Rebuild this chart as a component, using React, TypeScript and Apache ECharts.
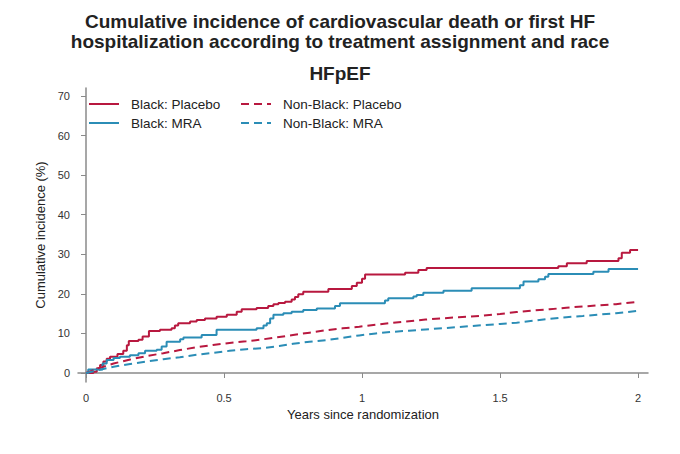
import React, { useEffect, useRef } from "react";
import * as echarts from "echarts";

const titleLines = [
  "Cumulative incidence of cardiovascular death or first HF",
  "hospitalization according to treatment assignment and race",
];
const subTitle = "HFpEF";
const xTicks = [0, 0.5, 1, 1.5, 2];
const yTicks = [0, 10, 20, 30, 40, 50, 60, 70];
const xName = "Years since randomization";
const yName = "Cumulative incidence (%)";

const seriesNames = ["Black: Placebo", "Black: MRA", "Non-Black: Placebo", "Non-Black: MRA"];

const blackPlacebo: [number, number][] = [
  [0, 0], [0.027, 0.3], [0.039, 1.2], [0.051, 2.0], [0.063, 2.9], [0.075, 3.6], [0.087, 4.1],
  [0.114, 4.8], [0.135, 5.6], [0.148, 7.0], [0.155, 8.1], [0.19, 8.4], [0.205, 9.2],
  [0.228, 10.6], [0.268, 10.9], [0.31, 11.3], [0.322, 12.0], [0.334, 12.6], [0.377, 13.0],
  [0.401, 13.4], [0.431, 13.8], [0.473, 14.2], [0.51, 14.7], [0.546, 15.5], [0.564, 16.1],
  [0.618, 16.4], [0.66, 16.9], [0.679, 17.4], [0.697, 17.7], [0.721, 18.0], [0.745, 18.6],
  [0.757, 19.2], [0.769, 19.9], [0.787, 20.5], [0.878, 21.2], [0.963, 22.0], [0.981, 22.8],
  [1.0, 23.8], [1.011, 24.9], [1.156, 25.3], [1.204, 26.0], [1.234, 26.5], [1.711, 27.0],
  [1.742, 27.7], [1.814, 28.3], [1.929, 29.0], [1.941, 30.4], [1.971, 31.1], [2.0, 31.1],
];

const blackMRA: [number, number][] = [
  [0, 0], [0.008, 0.9], [0.06, 2.4], [0.075, 3.3], [0.1, 3.8], [0.123, 4.1], [0.159, 4.5],
  [0.19, 5.0], [0.214, 5.6], [0.256, 5.9], [0.274, 6.7], [0.292, 7.9], [0.341, 8.5],
  [0.353, 9.0], [0.419, 9.6], [0.473, 10.9], [0.618, 11.3], [0.643, 12.0], [0.655, 12.6],
  [0.667, 13.8], [0.679, 14.7], [0.715, 15.1], [0.745, 15.5], [0.787, 15.9], [0.836, 16.3],
  [0.902, 16.9], [0.92, 17.6], [1.083, 18.3], [1.095, 18.9], [1.186, 19.3], [1.198, 19.7],
  [1.222, 20.3], [1.295, 20.8], [1.397, 21.4], [1.572, 22.2], [1.585, 23.1], [1.639, 23.7],
  [1.663, 24.3], [1.675, 25.0], [1.838, 25.6], [1.893, 26.3], [2.0, 26.3],
];

const nonBlackPlacebo: [number, number][] = [
  [0, 0], [0.05, 1.3], [0.1, 2.4], [0.16, 3.4], [0.22, 4.3], [0.28, 5.0], [0.34, 5.8],
  [0.4, 6.5], [0.46, 7.1], [0.52, 7.6], [0.58, 8.0], [0.64, 8.5], [0.7, 9.1], [0.75, 9.6],
  [0.81, 10.2], [0.87, 10.8], [0.93, 11.3], [0.99, 11.7], [1.05, 12.2], [1.11, 12.7],
  [1.17, 13.1], [1.23, 13.5], [1.29, 13.8], [1.35, 14.1], [1.44, 14.5], [1.5, 14.9],
  [1.56, 15.4], [1.62, 15.8], [1.68, 16.1], [1.74, 16.5], [1.8, 16.8], [1.86, 17.1],
  [1.92, 17.4], [2.0, 18.0],
];

const nonBlackMRA: [number, number][] = [
  [0, 0], [0.05, 0.8], [0.1, 1.6], [0.16, 2.3], [0.22, 2.9], [0.28, 3.5], [0.34, 4.0],
  [0.4, 4.6], [0.46, 5.1], [0.52, 5.6], [0.58, 6.0], [0.64, 6.3], [0.7, 6.8], [0.75, 7.4],
  [0.81, 7.9], [0.87, 8.3], [0.93, 8.9], [0.99, 9.5], [1.05, 10.0], [1.11, 10.4],
  [1.17, 10.7], [1.23, 11.0], [1.29, 11.3], [1.35, 11.6], [1.44, 12.1], [1.5, 12.4],
  [1.56, 12.7], [1.62, 13.2], [1.68, 13.7], [1.74, 14.1], [1.8, 14.4], [1.86, 14.8],
  [1.92, 15.1], [2.0, 15.7],
];

const RED = "#b8183f";
const BLUE = "#2b8db6";
const FONT = "'Liberation Sans', Arial, sans-serif";

export default function App() {
  const ref = useRef<HTMLDivElement>(null);
  useEffect(() => {
    if (!ref.current) return;
    const chart = echarts.init(ref.current, null, { renderer: "svg" });
    const axisLine = { show: true, lineStyle: { color: "#8a8a8a", width: 1.5 } };
    const legendBase = {
      orient: "vertical" as const,
      top: 97,
      padding: 0,
      itemWidth: 30,
      itemHeight: 14,
      itemGap: 5,
      itemStyle: { opacity: 0 },
      textStyle: { fontSize: 13.5, color: "#222", fontFamily: FONT, padding: [0, 0, 0, 7] },
    };
    chart.setOption({
      animation: false,
      backgroundColor: "#fff",
      textStyle: { fontFamily: FONT },
      title: [
        {
          text: titleLines.join("\n"),
          left: "center",
          top: 6,
          textStyle: { fontSize: 19, fontWeight: "bold", color: "#222", lineHeight: 20, fontFamily: FONT },
        },
        {
          text: subTitle,
          left: "center",
          top: 59,
          textStyle: { fontSize: 19, fontWeight: "bold", color: "#222", fontFamily: FONT },
        },
      ],
      legend: [
        { ...legendBase, left: 88, data: [seriesNames[0], seriesNames[1]] },
        { ...legendBase, left: 240, data: [seriesNames[2], seriesNames[3]] },
      ],
      grid: { left: 78, right: 32, top: 88, bottom: 72, containLabel: false },
      xAxis: {
        type: "value",
        min: -0.029,
        max: 2.036,
        name: xName,
        nameLocation: "middle",
        nameGap: 21,
        nameTextStyle: { fontSize: 13, color: "#222", fontFamily: FONT },
        axisLine,
        axisTick: { show: true, customValues: xTicks, length: 5, lineStyle: { color: "#8a8a8a" } },
        axisLabel: {
          customValues: xTicks,
          margin: 10,
          fontSize: 11,
          color: "#333",
          formatter: (v: number) => String(v),
        },
        splitLine: { show: false },
      },
      yAxis: {
        type: "value",
        min: -2.27,
        max: 72,
        name: yName,
        nameLocation: "middle",
        nameGap: 26,
        nameTextStyle: { fontSize: 13, color: "#222", fontFamily: FONT },
        axisLine,
        axisTick: { show: true, customValues: yTicks, length: 5, lineStyle: { color: "#8a8a8a" } },
        axisLabel: {
          customValues: yTicks,
          margin: 8,
          fontSize: 11,
          color: "#333",
          formatter: (v: number) => String(v),
        },
        splitLine: { show: false },
      },
      series: [
        {
          name: seriesNames[0],
          type: "line",
          step: "end",
          symbol: "none",
          data: blackPlacebo,
          lineStyle: { color: RED, width: 2 },
          itemStyle: { color: RED },
        },
        {
          name: seriesNames[1],
          type: "line",
          step: "end",
          symbol: "none",
          data: blackMRA,
          lineStyle: { color: BLUE, width: 2 },
          itemStyle: { color: BLUE },
        },
        {
          name: seriesNames[2],
          type: "line",
          symbol: "none",
          data: nonBlackPlacebo,
          lineStyle: { color: RED, width: 2, type: [8, 5] },
          itemStyle: { color: RED },
        },
        {
          name: seriesNames[3],
          type: "line",
          symbol: "none",
          data: nonBlackMRA,
          lineStyle: { color: BLUE, width: 2, type: [8, 5] },
          itemStyle: { color: BLUE },
        },
      ],
    });
    return () => chart.dispose();
  }, []);
  return (
    <div
      ref={ref}
      style={{ position: "fixed", left: 0, top: 0, width: 680, height: 454, background: "#fff" }}
    />
  );
}
